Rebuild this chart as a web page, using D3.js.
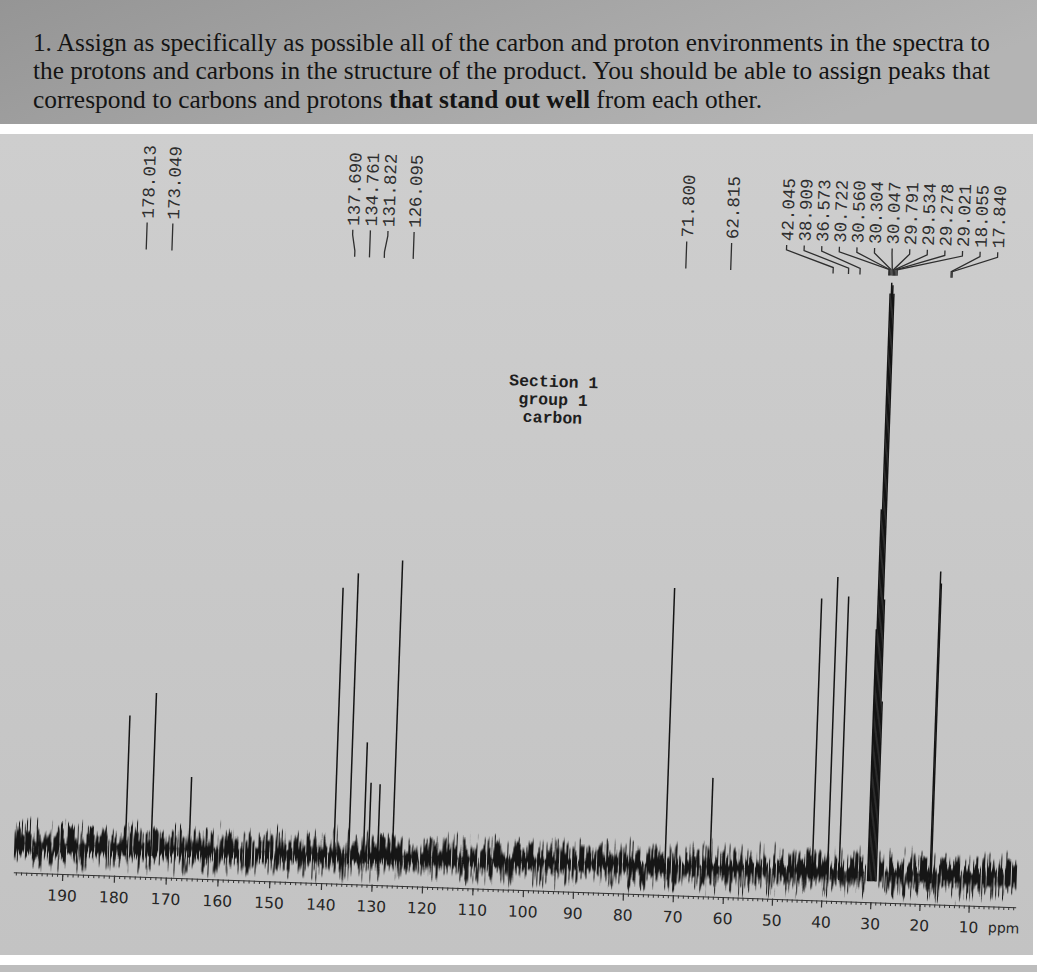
<!DOCTYPE html>
<html>
<head>
<meta charset="utf-8">
<script src="https://cdn.jsdelivr.net/npm/d3@7"></script>
<style>
  html, body { margin: 0; padding: 0; background: #fff; }
  svg { display: block; }
</style>
</head>
<body>
<div id="chart"></div>
<script>
// ---- data ----
const peakPpm    = [178.013, 173.049, 137.690, 134.761, 131.822, 126.095, 71.800, 62.815,
                    42.045, 38.909, 36.573, 30.722, 30.560, 30.304, 30.047, 29.791,
                    29.534, 29.278, 29.021, 18.055, 17.840];
const peakHeight = [21.3, 25.2, 43.8, 46.3, 18.2, 48.7, 45.7, 14.3,
                    44.8, 48.5, 45.3, 40, 60, 96, 97.8, 97.4,
                    96, 45, 28, 50, 48];
// small unlabelled lines
const minorPpm    = [165.7, 130.8, 129.0];
const minorHeight = [11.4, 11.5, 11.3];

const axisTicks = [190, 180, 170, 160, 150, 140, 130, 120, 110, 100, 90, 80, 70, 60, 50, 40, 30, 20, 10];

// baseline noise envelope (same units as peak heights)
const noisePpm  = [199.5, 190, 180, 170, 160, 150, 140, 130, 120, 110, 100, 90, 80, 70, 60, 50, 40, 31, 30.2, 28.6, 20, 10, 0.5];
const noiseUp   = [4.4, 4.8, 4.6, 4.9, 4.5, 4.4, 5.0, 4.8, 4.6, 4.4, 5.0, 4.7, 4.6, 5.0, 4.4, 4.7, 5.2, 4.6, null, 4.6, 4.9, 4.8, 4.4];
const noiseDown = [-5.2, -5.6, -5.4, -5.6, -5.5, -5.3, -5.7, -5.6, -5.4, -5.5, -5.8, -5.6, -5.5, -5.8, -5.6, -5.6, -6.0, -5.6, null, -5.6, -5.8, -5.9, -5.6];

const sectionLines = ["Section 1", "group 1", "carbon"];

const questionLines = [
  [{t: "1.  Assign as specifically as possible all of the carbon and proton environments in the spectra to", b: false}],
  [{t: "the protons and carbons in the structure of the product.  You should be able to assign peaks that", b: false}],
  [{t: "correspond to carbons and protons ", b: false}, {t: "that stand out well", b: true}, {t: " from each other.", b: false}]
];

const W = 1037, H = 972;

const svg = d3.select("#chart").append("svg")
  .attr("width", W)
  .attr("height", H);

const defs = svg.append("defs");

// =========================
// BACKGROUND (photo of sheet)
// =========================
const hdrGrad = defs.append("linearGradient").attr("id", "hdr").attr("x1", 0).attr("x2", 1).attr("y1", 0).attr("y2", 0.3);
hdrGrad.append("stop").attr("offset", "0%").attr("stop-color", "#959595");
hdrGrad.append("stop").attr("offset", "100%").attr("stop-color", "#b4b4b4");

const paperGrad = defs.append("linearGradient").attr("id", "paper").attr("x1", 0).attr("x2", 0).attr("y1", 0).attr("y2", 1);
paperGrad.append("stop").attr("offset", "0%").attr("stop-color", "#cecece");
paperGrad.append("stop").attr("offset", "100%").attr("stop-color", "#c3c3c3");

svg.append("rect").attr("x", 0).attr("y", 0).attr("width", W).attr("height", 124).attr("fill", "url(#hdr)");
svg.append("rect").attr("x", 0).attr("y", 134).attr("width", 1033).attr("height", 821).attr("fill", "url(#paper)");
svg.append("rect").attr("x", 0).attr("y", 965).attr("width", W).attr("height", 7).attr("fill", "#bdbdbd");

// question text
const q = svg.append("g")
  .style("font-family", "'Liberation Serif', 'Times New Roman', serif")
  .style("font-size", "25px")
  .attr("fill", "#141414");

const lineY = [51, 79, 108];
const lineLen = [957, 957, 729];
questionLines.forEach((parts, i) => {
  const t = q.append("text")
    .attr("x", 33)
    .attr("y", lineY[i])
    .attr("textLength", lineLen[i])
    .attr("lengthAdjust", "spacingAndGlyphs");
  parts.forEach(p => {
    t.append("tspan").attr("font-weight", p.b ? "bold" : "normal").text(p.t);
  });
});

// =========================
// SPECTRUM (slightly rotated like the photo)
// =========================
const x = d3.scaleLinear()
  .domain([199.5, 190, 140, 100, 60, 10, 0.5])
  .range([13, 62, 321, 523, 723, 969, 1016]);

const y = d3.scaleLinear()
  .domain([0, 100])
  .range([857, 257]);

const axisY = 890;

const plot = svg.append("g").attr("transform", "rotate(2,520,890)");

// noise texture filter
const gGrad = defs.append("linearGradient").attr("id", "noiseFade")
  .attr("gradientUnits", "userSpaceOnUse")
  .attr("x1", 0).attr("x2", 0)
  .attr("y1", y(5.0)).attr("y2", y(-6.2));
gGrad.append("stop").attr("offset", "0%").attr("stop-color", "#000").attr("stop-opacity", 0);
gGrad.append("stop").attr("offset", "50%").attr("stop-color", "#000").attr("stop-opacity", 1);
gGrad.append("stop").attr("offset", "100%").attr("stop-color", "#000").attr("stop-opacity", 0);

const filt = defs.append("filter").attr("id", "grain")
  .attr("x", "-0.01").attr("y", "-0.2").attr("width", "1.02").attr("height", "1.4");
filt.append("feTurbulence")
  .attr("type", "fractalNoise")
  .attr("baseFrequency", "0.6 0.03")
  .attr("numOctaves", 2)
  .attr("seed", 5)
  .attr("result", "n");
filt.append("feColorMatrix")
  .attr("in", "n").attr("type", "matrix")
  .attr("values", "0 0 0 0 0  0 0 0 0 0  0 0 0 0 0  1.8 0 0 0 -0.4")
  .attr("result", "na");
filt.append("feComposite")
  .attr("in", "SourceGraphic").attr("in2", "na")
  .attr("operator", "arithmetic")
  .attr("k1", 0).attr("k2", 1).attr("k3", 1).attr("k4", -1.08)
  .attr("result", "mix");
const ct = filt.append("feComponentTransfer").attr("in", "mix").attr("result", "sharp");
ct.append("feFuncA").attr("type", "linear").attr("slope", 5).attr("intercept", 0);
filt.append("feFlood").attr("flood-color", "#141414").attr("result", "ink");
filt.append("feComposite").attr("in", "ink").attr("in2", "sharp").attr("operator", "in");

const noise = noisePpm.map((p, i) => ({ppm: p, up: noiseUp[i], down: noiseDown[i]}));

plot.append("path")
  .datum(noise)
  .attr("d", d3.area()
    .defined(d => d.up != null)
    .x(d => x(d.ppm))
    .y0(d => y(d.down))
    .y1(d => y(d.up)))
  .attr("fill", "url(#noiseFade)")
  .attr("filter", "url(#grain)");

// peaks
const peaks = peakPpm.map((p, i) => ({ppm: p, h: peakHeight[i]}))
  .concat(minorPpm.map((p, i) => ({ppm: p, h: minorHeight[i]})));

plot.append("g")
  .selectAll("line")
  .data(peaks)
  .join("line")
  .attr("x1", d => x(d.ppm))
  .attr("x2", d => x(d.ppm))
  .attr("y1", y(-2))
  .attr("y2", d => y(d.h))
  .attr("stroke", "#141414")
  .attr("stroke-width", 1.5);

// =========================
// AXIS
// =========================
const minorTicks = d3.range(199, 0, -1);

const minorAxis = plot.append("g")
  .attr("transform", `translate(0,${axisY})`)
  .call(d3.axisBottom(x).tickValues(minorTicks).tickSize(3).tickSizeOuter(0).tickFormat(""));
minorAxis.selectAll("path,line").attr("stroke", "#333").attr("stroke-width", 1);

const majorAxis = plot.append("g")
  .attr("transform", `translate(0,${axisY})`)
  .call(d3.axisBottom(x).tickValues(axisTicks).tickSize(7).tickSizeOuter(0).tickPadding(9));
majorAxis.select(".domain").remove();
majorAxis.selectAll("line").attr("stroke", "#333").attr("stroke-width", 1.2);
majorAxis.selectAll("text")
  .style("font-family", "'DejaVu Sans', sans-serif")
  .style("font-size", "15.5px")
  .attr("fill", "#262626");

plot.append("text")
  .attr("x", x(10) + 20)
  .attr("y", axisY + 16)
  .attr("dy", "0.71em")
  .style("font-family", "'DejaVu Sans', sans-serif")
  .style("font-size", "14px")
  .attr("fill", "#262626")
  .text("ppm");

// =========================
// PEAK LABELS
// =========================
const labSpace = 17.6;
const labels = peakPpm.map((p, i) => ({ppm: p, px: x(p)})).sort((a, b) => a.px - b.px);

// group overlapping labels and centre each group on its peaks
let groups = labels.map(l => ({items: [l]}));
let merged = true;
function place(g) {
  const c = d3.mean(g.items, d => d.px);
  const n = g.items.length;
  g.items.forEach((d, i) => { d.lx = c + (i - (n - 1) / 2) * labSpace; });
}
groups.forEach(place);
while (merged) {
  merged = false;
  for (let i = 0; i < groups.length - 1; i++) {
    const a = groups[i], b = groups[i + 1];
    if (b.items[0].lx - a.items[a.items.length - 1].lx < labSpace) {
      a.items = a.items.concat(b.items);
      groups.splice(i + 1, 1);
      place(a);
      merged = true;
      break;
    }
  }
}

const textBottom = 232;
const c0 = 236, c1 = 241, c2 = 257, c3 = 263;

const lab = plot.append("g");

lab.selectAll("path")
  .data(labels)
  .join("path")
  .attr("d", d => d3.line()([[d.lx, c0], [d.lx, c1], [d.px, c2], [d.px, c3]]))
  .attr("fill", "none")
  .attr("stroke", "#2e2e2e")
  .attr("stroke-width", 1.3);

lab.selectAll("text")
  .data(labels)
  .join("text")
  .attr("transform", d => `translate(${d.lx},${textBottom}) rotate(-90)`)
  .attr("dy", "0.35em")
  .style("font-family", "'Liberation Mono', 'DejaVu Sans Mono', monospace")
  .style("font-size", "17.5px")
  .attr("fill", "#2e2e2e")
  .text(d => d.ppm.toFixed(3));

// =========================
// SECTION NOTE
// =========================
plot.append("g")
  .selectAll("text")
  .data(sectionLines)
  .join("text")
  .attr("x", 536)
  .attr("y", (d, i) => 386 + i * 18)
  .attr("text-anchor", "middle")
  .style("font-family", "'Liberation Mono', 'DejaVu Sans Mono', monospace")
  .style("font-size", "16.5px")
  .style("font-weight", "bold")
  .attr("fill", "#1e1e1e")
  .text(d => d);
</script>
</body>
</html>
